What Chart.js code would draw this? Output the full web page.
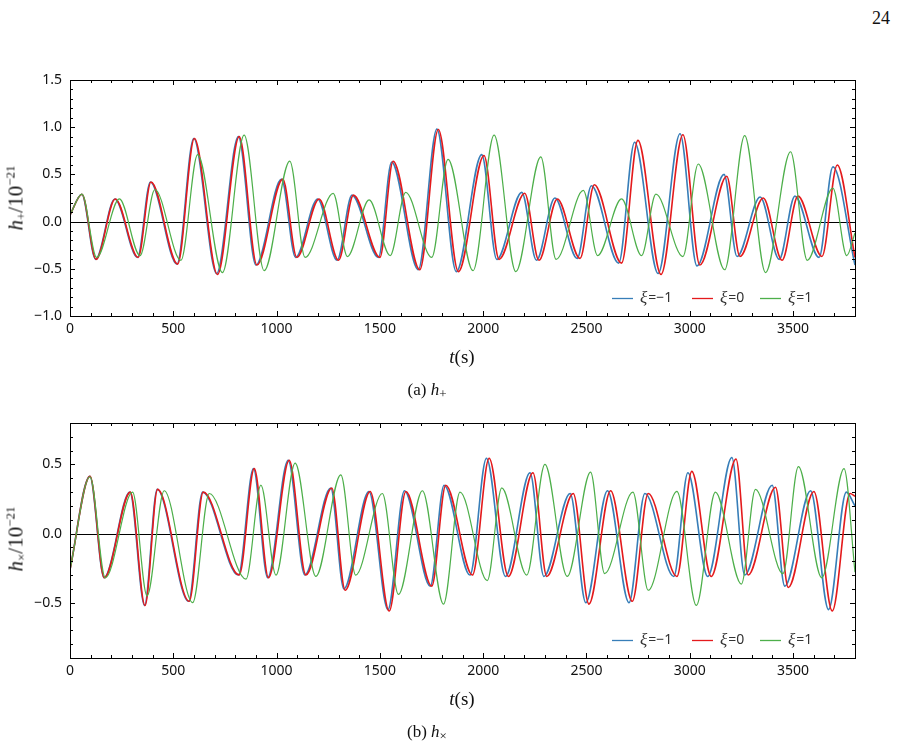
<!DOCTYPE html>
<html>
<head>
<meta charset="utf-8">
<script src="https://cdn.jsdelivr.net/npm/chart.js@4.4.1/dist/chart.umd.min.js"></script>
<style>
  body { margin: 0; background: #fff; width: 899px; height: 749px; position: relative; overflow: hidden;
         font-family: "Liberation Serif", "DejaVu Serif", serif; color: #111; }
  canvas { position: absolute; left: 0; }
  .lbl { position: absolute; white-space: nowrap; transform: translate(-50%, -50%); }
  .ylab { transform: translate(-50%, -50%) rotate(-90deg); font-size: 21px; }
  .xlab { font-size: 19px; }
  .cap { font-size: 17px; }
  sup { font-size: 13px; vertical-align: 8px; }
  sub { font-size: 13px; vertical-align: -3px; }
</style>
</head>
<body>
<div class="lbl" style="left:881px;top:18px;font-size:18px;">24</div>

<canvas id="chartTop" width="899" height="320" style="top:60px"></canvas>
<div class="lbl ylab" style="left:16px;top:198px;"><i>h</i><sub>+</sub>/10<sup>−21</sup></div>
<div class="lbl xlab" style="left:462px;top:357px;"><i>t</i>(s)</div>
<div class="lbl cap" style="left:427px;top:391px;">(a) <i>h</i><sub>+</sub></div>

<canvas id="chartBottom" width="899" height="320" style="top:403px"></canvas>
<div class="lbl ylab" style="left:16px;top:539px;"><i>h</i><sub>×</sub>/10<sup>−21</sup></div>
<div class="lbl xlab" style="left:462px;top:699px;"><i>t</i>(s)</div>
<div class="lbl cap" style="left:427px;top:733px;">(b) <i>h</i><sub>×</sub></div>

<script>
// values: extrema of each waveform (t in s, h in 1e-21)
const xTicks = [0, 500, 1000, 1500, 2000, 2500, 3000, 3500];
const topYTicks = [-1.0, -0.5, 0.0, 0.5, 1.0, 1.5];
const bottomYTicks = [-0.5, 0.0, 0.5];
const legendLabels = ['−1', '0', '1'];

// h+ panel
const plusBlueT = [0, 57, 124, 217, 327, 389, 518, 599, 710, 815, 900, 1024, 1092, 1199, 1293, 1365, 1493, 1557, 1686, 1776, 1870, 1993, 2066, 2187, 2258, 2347, 2455, 2524, 2656, 2733, 2847, 2953, 3035, 3166, 3229, 3341, 3433, 3509, 3626, 3693, 3800];
const plusBlueH = [0.07, 0.29, -0.40, 0.24, -0.38, 0.42, -0.45, 0.88, -0.55, 0.90, -0.46, 0.45, -0.38, 0.24, -0.41, 0.28, -0.38, 0.63, -0.51, 0.98, -0.53, 0.71, -0.40, 0.31, -0.41, 0.25, -0.39, 0.38, -0.44, 0.84, -0.55, 0.93, -0.47, 0.50, -0.37, 0.26, -0.40, 0.27, -0.38, 0.58, -0.46];
const plusRedT = [0, 58, 126, 219, 330, 392, 521, 602, 714, 819, 905, 1030, 1098, 1206, 1300, 1372, 1500, 1564, 1693, 1783, 1880, 2004, 2077, 2201, 2270, 2359, 2469, 2538, 2670, 2749, 2861, 2967, 3049, 3179, 3243, 3356, 3447, 3524, 3640, 3714, 3800];
const plusRedH = [0.07, 0.29, -0.40, 0.24, -0.38, 0.42, -0.45, 0.88, -0.56, 0.90, -0.46, 0.45, -0.38, 0.24, -0.41, 0.28, -0.38, 0.64, -0.51, 0.975, -0.53, 0.70, -0.40, 0.30, -0.41, 0.24, -0.39, 0.39, -0.44, 0.86, -0.56, 0.92, -0.46, 0.48, -0.37, 0.25, -0.41, 0.27, -0.37, 0.60, -0.38];
const plusGreenT = [0, 58, 129, 239, 339, 411, 537, 618, 738, 843, 940, 1064, 1138, 1274, 1343, 1448, 1550, 1625, 1751, 1830, 1951, 2053, 2158, 2279, 2353, 2485, 2554, 2670, 2767, 2836, 2967, 3041, 3169, 3266, 3367, 3488, 3569, 3693, 3760, 3800];
const plusGreenH = [0.07, 0.29, -0.38, 0.24, -0.36, 0.34, -0.41, 0.71, -0.54, 0.915, -0.52, 0.64, -0.38, 0.30, -0.37, 0.23, -0.36, 0.31, -0.38, 0.66, -0.52, 0.915, -0.53, 0.685, -0.40, 0.33, -0.36, 0.24, -0.36, 0.29, -0.37, 0.61, -0.51, 0.91, -0.54, 0.74, -0.41, 0.355, -0.36, -0.12];

// hx panel
const crossBlueT = [0, 96, 165, 290, 361, 422, 574, 642, 815, 888, 957, 1056, 1137, 1262, 1326, 1447, 1539, 1619, 1744, 1811, 1936, 2016, 2108, 2227, 2294, 2421, 2497, 2602, 2706, 2783, 2923, 2991, 3087, 3204, 3266, 3399, 3460, 3585, 3672, 3758, 3800];
const crossBlueH = [-0.26, 0.415, -0.32, 0.30, -0.52, 0.32, -0.49, 0.30, -0.30, 0.47, -0.32, 0.53, -0.30, 0.33, -0.40, 0.305, -0.55, 0.31, -0.38, 0.35, -0.30, 0.545, -0.31, 0.44, -0.31, 0.29, -0.50, 0.31, -0.50, 0.29, -0.31, 0.44, -0.31, 0.55, -0.30, 0.35, -0.38, 0.31, -0.55, 0.30, 0.20];
const crossRedT = [0, 97, 166, 292, 363, 424, 577, 645, 819, 892, 961, 1061, 1142, 1267, 1332, 1453, 1545, 1626, 1751, 1819, 1948, 2029, 2122, 2241, 2308, 2436, 2512, 2617, 2722, 2799, 2938, 3010, 3104, 3224, 3283, 3415, 3477, 3601, 3690, 3776, 3800];
const crossRedH = [-0.26, 0.415, -0.32, 0.30, -0.52, 0.32, -0.49, 0.30, -0.30, 0.47, -0.32, 0.53, -0.30, 0.33, -0.41, 0.305, -0.56, 0.305, -0.38, 0.35, -0.30, 0.545, -0.31, 0.44, -0.31, 0.29, -0.51, 0.31, -0.49, 0.29, -0.31, 0.45, -0.31, 0.54, -0.30, 0.335, -0.39, 0.305, -0.56, 0.29, 0.27];
const crossGreenT = [0, 97, 171, 303, 373, 456, 594, 674, 852, 924, 997, 1090, 1190, 1311, 1383, 1512, 1590, 1706, 1808, 1888, 2020, 2090, 2211, 2299, 2407, 2520, 2588, 2725, 2799, 2938, 3032, 3124, 3250, 3318, 3451, 3526, 3639, 3747, 3800];
const crossGreenH = [-0.26, 0.41, -0.32, 0.30, -0.45, 0.31, -0.50, 0.29, -0.33, 0.35, -0.30, 0.51, -0.31, 0.425, -0.30, 0.29, -0.44, 0.31, -0.51, 0.30, -0.34, 0.33, -0.30, 0.50, -0.31, 0.445, -0.29, 0.30, -0.41, 0.305, -0.52, 0.30, -0.365, 0.32, -0.29, 0.485, -0.32, 0.47, -0.28];

const BLUE = '#377eb8', RED = '#e41a1c', GREEN = '#4daf4a';

function toPoints(ts, hs) {
  return ts.map((t, i) => ({ x: t, y: hs[i] }));
}

function fmtY(v) {
  return v.toFixed(1).replace('-', '−');
}

// frame with inward ticks, zero line and the legend inside the plot
const framePlugin = {
  id: 'framePlugin',
  beforeDatasetsDraw(chart) {
    const { ctx, chartArea: a, scales: { y } } = chart;
    const y0 = Math.round(y.getPixelForValue(0)) + 0.5;
    ctx.save();
    ctx.strokeStyle = '#000';
    ctx.lineWidth = 1;
    ctx.beginPath();
    ctx.moveTo(a.left, y0);
    ctx.lineTo(a.right, y0);
    ctx.stroke();
    ctx.restore();
  },
  afterDatasetsDraw(chart, args, opts) {
    const { ctx, chartArea: a, scales: { x, y } } = chart;
    ctx.save();
    ctx.strokeStyle = '#000';
    ctx.lineWidth = 1;
    ctx.strokeRect(Math.round(a.left) + 0.5, Math.round(a.top) + 0.5,
                   Math.round(a.right - a.left), Math.round(a.bottom - a.top));
    ctx.beginPath();
    // x ticks every 100 s, long ones every 500 s
    for (let v = x.min; v <= x.max; v += 100) {
      const px = Math.round(x.getPixelForValue(v)) + 0.5;
      const len = v % 500 === 0 ? 5 : 3;
      ctx.moveTo(px, a.bottom); ctx.lineTo(px, a.bottom - len);
      ctx.moveTo(px, a.top); ctx.lineTo(px, a.top + len);
    }
    // y ticks every 0.1, long ones every 0.5
    const lo = Math.round(y.min * 10), hi = Math.round(y.max * 10);
    for (let k = lo; k <= hi; k++) {
      const py = Math.round(y.getPixelForValue(k / 10)) + 0.5;
      const len = k % 5 === 0 ? 5 : 3;
      ctx.moveTo(a.left, py); ctx.lineTo(a.left + len, py);
      ctx.moveTo(a.right, py); ctx.lineTo(a.right - len, py);
    }
    ctx.stroke();

    // legend
    const ly = a.bottom - 17.5;
    const items = [
      { dx: -243, color: BLUE, text: legendLabels[0] },
      { dx: -163, color: RED, text: legendLabels[1] },
      { dx: -95, color: GREEN, text: legendLabels[2] }
    ];
    ctx.textBaseline = 'middle';
    items.forEach(it => {
      const x0 = a.right + it.dx;
      ctx.strokeStyle = it.color;
      ctx.lineWidth = 1.3;
      ctx.beginPath();
      ctx.moveTo(x0, ly); ctx.lineTo(x0 + 21, ly);
      ctx.stroke();
      ctx.fillStyle = '#333';
      ctx.font = 'italic 17px "Liberation Serif", serif';
      ctx.fillText('ξ', x0 + 28, ly);
      const w = ctx.measureText('ξ').width;
      ctx.font = '14px "Noto Sans", sans-serif';
      ctx.fillText('=' + it.text, x0 + 28 + w + 1, ly);
    });
    ctx.restore();
  }
};

function makeChart(id, blue, red, green, yMin, yMax, yTicks, bottomAxisH) {
  const line = (data, color, width, order) => ({
    data, borderColor: color, borderWidth: width, order,
    pointRadius: 0, fill: false, cubicInterpolationMode: 'monotone'
  });
  return new Chart(document.getElementById(id), {
    type: 'line',
    data: {
      datasets: [
        line(blue, BLUE, 1.6, 2),
        line(red, RED, 1.6, 1),
        line(green, GREEN, 1.2, 0)
      ]
    },
    options: {
      responsive: false,
      animation: false,
      devicePixelRatio: 1,
      layout: { padding: { top: 20, right: 44, left: 0, bottom: 0 } },
      plugins: { legend: { display: false }, tooltip: { enabled: false } },
      scales: {
        x: {
          type: 'linear', min: 0, max: 3800,
          grid: { display: false, drawTicks: false },
          border: { display: false },
          afterBuildTicks: s => { s.ticks = xTicks.map(v => ({ value: v })); },
          afterFit: s => { s.height = bottomAxisH; },
          ticks: { padding: 5, color: '#111', font: { family: '"Noto Sans", sans-serif', size: 14 },
                   maxRotation: 0, callback: v => String(v) }
        },
        y: {
          min: yMin, max: yMax,
          grid: { display: false, drawTicks: false },
          border: { display: false },
          afterBuildTicks: s => { s.ticks = yTicks.map(v => ({ value: v })); },
          afterFit: s => { s.width = 70; },
          ticks: { padding: 8, color: '#111', font: { family: '"Noto Sans", sans-serif', size: 14 },
                   callback: v => fmtY(v) }
        }
      }
    },
    plugins: [framePlugin]
  });
}

makeChart('chartTop',
  toPoints(plusBlueT, plusBlueH), toPoints(plusRedT, plusRedH), toPoints(plusGreenT, plusGreenH),
  -1.0, 1.5, topYTicks, 64);
makeChart('chartBottom',
  toPoints(crossBlueT, crossBlueH), toPoints(crossRedT, crossRedH), toPoints(crossGreenT, crossGreenH),
  -0.9, 0.8, bottomYTicks, 65);
</script>
</body>
</html>
